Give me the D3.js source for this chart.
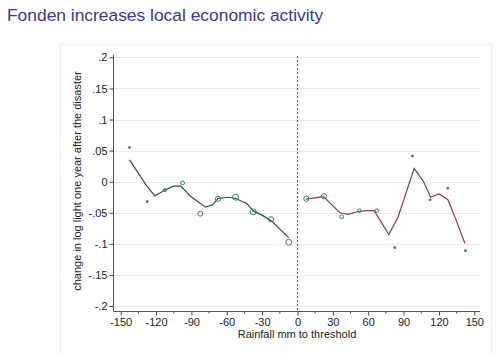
<!DOCTYPE html>
<html>
<head>
<meta charset="utf-8">
<script src="https://cdn.jsdelivr.net/npm/d3@7"></script>
<style>
  body { margin: 0; background: #fff; }
  svg { display: block; font-family: "Liberation Sans", Arial, sans-serif; }
</style>
</head>
<body>
<svg id="chart" width="503" height="353"></svg>
<script>
const title = "Fonden increases local economic activity";
const xTitle = "Rainfall mm to threshold";
const yTitle = "change in log light one year after the disaster";

const xTicks = [-150, -120, -90, -60, -30, 0, 30, 60, 90, 120, 150];
const xMinor = [-135, -105, -75, -45, -15, 15, 45, 75, 105, 135];
const yTicks = [0.2, 0.15, 0.1, 0.05, 0, -0.05, -0.1, -0.15, -0.2];

// binned means (15mm bins) and rough bin sizes
const binX = [-142.5, -127.5, -112.5, -97.5, -82.5, -67.5, -52.5, -37.5, -22.5, -7.5,
              7.5, 22.5, 37.5, 52.5, 67.5, 82.5, 97.5, 112.5, 127.5, 142.5];
const binY = [0.055, -0.032, -0.0135, -0.002, -0.0515, -0.0275, -0.025, -0.0485, -0.0605, -0.0975,
              -0.0275, -0.0235, -0.0565, -0.0465, -0.0465, -0.106, 0.0415, -0.029, -0.0105, -0.111];
const binN = [1, 1, 3, 5, 9, 10, 14, 14, 10, 14,
              10, 10, 5, 4, 4, 1, 1, 1, 1, 1];

// local fit below threshold
const fitLeftX = [-142.5, -127.5, -121, -112.5, -105, -99, -91, -78, -72, -67.5, -58.5, -52.5, -43, -37.5, -29, -21.5, -14.5, -7.5];
const fitLeftY = [0.035, -0.008, -0.023, -0.0135, -0.007, -0.007, -0.023, -0.041, -0.037, -0.027, -0.025, -0.027, -0.035, -0.047, -0.055, -0.064, -0.077, -0.09];
// local fit above threshold
const fitRightX = [7, 22, 36, 43, 51.5, 58.5, 65, 77.5, 85.5, 99, 107, 113, 120, 127.5, 134, 142];
const fitRightY = [-0.028, -0.024, -0.05, -0.0525, -0.048, -0.0465, -0.0465, -0.085, -0.056, 0.0215, 0, -0.025, -0.0198, -0.0285, -0.059, -0.099];

const svg = d3.select("#chart");

// faint graph region frame
svg.append("rect")
  .attr("x", 60.5).attr("y", 44.5).attr("width", 431).attr("height", 320)
  .attr("fill", "none").attr("stroke", "#efefef");

svg.append("text")
  .attr("x", 7).attr("y", 21)
  .attr("fill", "#3d3599")
  .style("font-size", "17.4px")
  .text(title);

const x = d3.scaleLinear().domain([-150, 150]).range([120.7, 474.3]);
const y = d3.scaleLinear().domain([-0.2, 0.2]).range([306, 57.4]);
const plotLeft = 113.5, plotRight = 480, plotTop = 55, plotBottom = 311.5;
const fmt = d => String(d).replace(/^(-?)0\./, "$1.");

// gridlines
svg.append("g")
  .selectAll("line").data(yTicks).join("line")
  .attr("x1", plotLeft).attr("x2", plotRight)
  .attr("y1", d => Math.round(y(d)) + 0.5).attr("y2", d => Math.round(y(d)) + 0.5)
  .attr("stroke", "#eaeaea").attr("stroke-width", 1);

// y axis
const yAxis = d3.axisLeft(y).tickValues(yTicks).tickSize(4).tickPadding(2).tickFormat(fmt);
const gy = svg.append("g").attr("transform", `translate(${plotLeft},0)`).call(yAxis);
gy.select(".domain").remove();
gy.selectAll("text").style("font-size", "11px").attr("fill", "#222");
gy.selectAll("line").attr("stroke", "#444");
svg.append("line")
  .attr("x1", plotLeft).attr("x2", plotLeft).attr("y1", plotTop).attr("y2", plotBottom)
  .attr("stroke", "#555").attr("stroke-width", 1);

// x axis
const xAxis = d3.axisBottom(x).tickValues(xTicks).tickSize(4).tickPadding(3).tickFormat(fmt);
const gx = svg.append("g").attr("transform", `translate(0,${plotBottom})`).call(xAxis);
gx.select(".domain").remove();
gx.selectAll("text").style("font-size", "11px").attr("fill", "#222");
gx.selectAll("line").attr("stroke", "#444");
svg.append("g").attr("transform", `translate(0,${plotBottom})`)
  .selectAll("line").data(xMinor).join("line")
  .attr("x1", d => x(d)).attr("x2", d => x(d)).attr("y1", 0).attr("y2", 2)
  .attr("stroke", "#444");
svg.append("line")
  .attr("x1", plotLeft).attr("x2", plotRight).attr("y1", plotBottom).attr("y2", plotBottom)
  .attr("stroke", "#555").attr("stroke-width", 1);

// threshold line
svg.append("line")
  .attr("x1", x(0)).attr("x2", x(0)).attr("y1", plotTop + 1).attr("y2", plotBottom)
  .attr("stroke", "#d0306a").attr("stroke-width", 1.2).attr("stroke-dasharray", "2,2");

// axis titles
svg.append("text")
  .attr("x", 297).attr("y", 338).attr("text-anchor", "middle")
  .style("font-size", "11px").attr("fill", "#222")
  .text(xTitle);
svg.append("text")
  .attr("transform", "translate(81,181) rotate(-90)").attr("text-anchor", "middle")
  .style("font-size", "11px").attr("fill", "#222")
  .text(yTitle);

// fitted lines
const line = d3.line().x(d => x(d[0])).y(d => y(d[1]));
svg.append("path")
  .attr("d", line(d3.zip(fitLeftX, fitLeftY)))
  .attr("fill", "none").attr("stroke", "#2a4a6e").attr("stroke-width", 1.2);
svg.append("path")
  .attr("d", line(d3.zip(fitRightX, fitRightY)))
  .attr("fill", "none").attr("stroke", "#8e3a48").attr("stroke-width", 1.2);

// bin means
const r = d3.scaleSqrt().domain([1, 14]).range([1, 3]);
svg.append("g")
  .selectAll("circle").data(d3.range(binX.length)).join("circle")
  .attr("cx", i => x(binX[i])).attr("cy", i => y(binY[i]))
  .attr("r", i => r(binN[i]))
  .attr("fill", i => binN[i] <= 1 ? "#2f7d45" : "none")
  .attr("stroke", "#2f8a45").attr("stroke-width", 1);
</script>
</body>
</html>
